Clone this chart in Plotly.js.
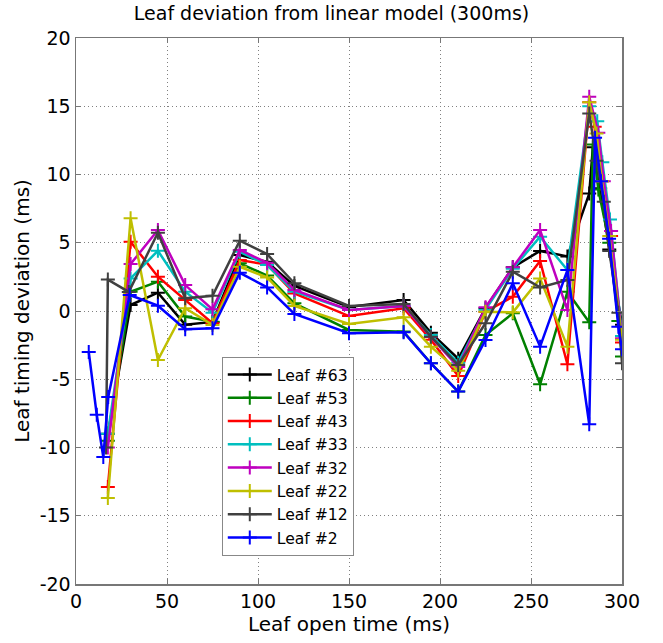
<!DOCTYPE html>
<html>
<head>
<meta charset="utf-8">
<script src="https://cdn.plot.ly/plotly-3.0.1.min.js"></script>
<style>html,body{margin:0;padding:0;background:#fff;}#chart{width:663px;height:643px;}</style>
</head>
<body>
<div id="chart"></div>
<script>
const seriesNames = ["Leaf #63","Leaf #53","Leaf #43","Leaf #33","Leaf #32","Leaf #22","Leaf #12","Leaf #2"];
const seriesColors = ["#000000","#008000","#ff0000","#00bfbf","#bf00bf","#bfbf00","#404040","#0000ff"];

const x63 = [17.5,30,45,60,75,90,105,120,150,180,195,210,225,240,255,270,282,284,288,293,300];
const y63 = [-9.0,0.44,1.34,-1.0,-0.8,4.1,3.6,1.83,0.3,0.8,-1.6,-3.5,0.2,3.2,4.4,4.0,8.6,12.0,9.0,4.5,-1.0];

const x53 = [17.5,30,45,60,75,90,105,120,150,180,195,210,225,240,255,270,282,284,287,293,298,300];
const y53 = [-9.5,1.41,2.15,-0.41,-0.78,3.49,2.6,0.56,-1.39,-1.51,-3.83,-5.9,-1.76,-0.17,-5.37,1.41,-0.83,12.2,8.9,5.0,-0.73,-3.34];

const x43 = [17.5,30,45,60,75,90,105,120,150,180,195,210,225,240,255,270,282,285,289,294,300];
const y43 = [-12.9,5.07,2.51,0.8,-0.9,3.73,3.4,1.29,-0.37,0.2,-2.1,-4.76,-0.05,1.05,3.66,-3.9,15.3,13.5,9.5,5.5,-2.3];

const x33 = [17.5,30,45,60,75,90,105,120,150,180,195,210,225,240,255,270,282,286.4,289.2,293.4,300];
const y33 = [-9.0,2.39,4.41,1.41,-0.12,4.34,3.37,1.41,0.07,0.37,-1.76,-3.8,0.1,3.1,5.44,3.0,15.0,13.9,10.9,6.7,-1.83];

const x32 = [17.5,30,45,60,75,90,105,120,150,180,195,210,225,240,255,270,282,287,290,294,300];
const y32 = [-10.0,3.44,5.93,1.9,0.12,4.47,3.54,1.54,0.07,0.37,-1.9,-4.1,0.27,3.2,5.93,0.07,15.7,13.05,9.5,5.86,-2.0];

const x22 = [17.5,30,45,60,75,90,105,120,150,180,195,210,225,240,255,270,282,286,289,293,300];
const y22 = [-13.7,6.79,-3.59,0.2,-1.02,3.24,2.46,0.37,-0.95,-0.46,-2.61,-4.37,-0.05,-0.1,2.39,-2.61,15.3,13.0,9.5,5.5,-2.1];

const x12 = [16.5,17.5,29,45,60,75,90,105,120,150,180,195,210,225,240,255,270,282,286,290,293,298,300];
const y12 = [-10.0,2.3,1.4,5.73,0.93,1.12,5.15,4.17,2.03,0.37,0.51,-1.88,-3.95,-0.9,2.88,1.73,2.27,14.47,11.0,8.0,4.4,-0.12,-3.83];

const x2 = [7,11.4,15,17.7,29.5,45,60,75,90,105,120,150,180,195,210,225,240,255,270,282,285.2,288.5,292.9,298,300];
const y2 = [-3.0,-7.6,-10.7,-6.3,1.17,0.39,-1.34,-1.27,2.8,1.73,-0.22,-1.63,-1.56,-3.83,-5.9,-2.12,2.03,-2.61,3.0,-8.3,12.7,9.5,5.3,-1.15,-2.8];

const xTicks = [0,50,100,150,200,250,300];
const yTicks = [-20,-15,-10,-5,0,5,10,15,20];

const xs = [x63,x53,x43,x33,x32,x22,x12,x2];
const ys = [y63,y53,y43,y33,y32,y22,y12,y2];

const traces = seriesNames.map((name, i) => ({
  type: 'scatter',
  mode: 'lines+markers',
  name: name,
  x: xs[i],
  y: ys[i],
  line: {color: seriesColors[i], width: 2.5},
  marker: {symbol: 'cross-thin', size: 10, color: seriesColors[i], line: {color: seriesColors[i], width: 2}}
}));

const fam = 'DejaVu Sans, sans-serif';
const f = (s) => ({family: fam, size: s, color: '#000'});

const layout = {
  width: 663, height: 643,
  margin: {l: 76, r: 41, t: 38, b: 59},
  paper_bgcolor: '#fff', plot_bgcolor: '#fff',
  showlegend: true,
  title: {text: 'Leaf deviation from linear model (300ms)', font: f(19), x: 0.5, xanchor: 'center', y: 0.99, yanchor: 'top'},
  xaxis: {
    range: [0, 300], tickvals: xTicks, ticktext: xTicks.map(String),
    showgrid: true, gridcolor: '#808080', griddash: '1px,3px', gridwidth: 1,
    zeroline: false, showline: true, mirror: 'ticks', linecolor: '#777', linewidth: 1.5,
    ticks: 'inside', ticklen: 5, tickcolor: '#777',
    tickfont: f(19),
    title: {text: 'Leaf open time (ms)', font: f(20), standoff: 2}
  },
  yaxis: {
    range: [-20, 20], tickvals: yTicks, ticktext: yTicks.map(v => String(v)),
    showgrid: true, gridcolor: '#808080', griddash: '1px,3px', gridwidth: 1,
    zeroline: false, showline: true, mirror: 'ticks', linecolor: '#777', linewidth: 1.5,
    ticks: 'inside', ticklen: 5, tickcolor: '#777',
    tickfont: f(19),
    title: {text: 'Leaf timing deviation (ms)', font: f(20), standoff: 4}
  },
  legend: {
    x: 0.267, y: 0.416, xanchor: 'left', yanchor: 'top',
    bgcolor: '#fff', bordercolor: '#888', borderwidth: 1,
    font: f(15.6),
    tracegroupgap: 0, itemwidth: 44
  }
};

Plotly.newPlot('chart', traces, layout, {staticPlot: true, displayModeBar: false});
</script>
</body>
</html>
